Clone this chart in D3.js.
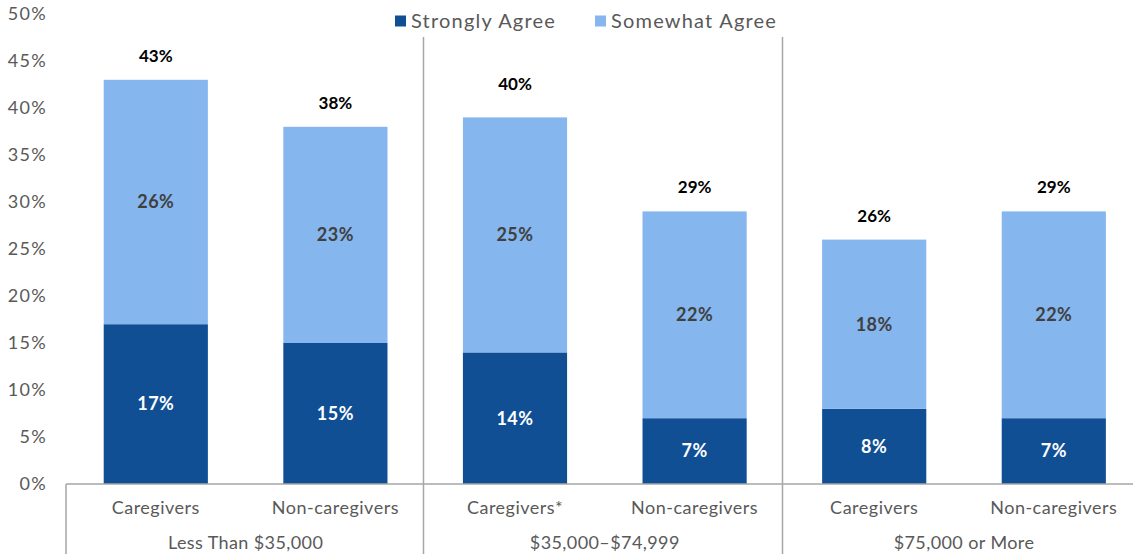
<!DOCTYPE html>
<html>
<head>
<meta charset="utf-8">
<script src="https://cdn.jsdelivr.net/npm/d3@7"></script>
<style>
  body { margin: 0; background: #fff; }
  text { font-family: Lato, "Noto Sans", sans-serif; }
</style>
</head>
<body>
<svg id="chart" width="1133" height="554"></svg>
<script>
// data
const groups = ["Less Than $35,000", "$35,000\u2013$74,999", "$75,000 or More"];
const categories = ["Caregivers", "Non-caregivers", "Caregivers*", "Non-caregivers", "Caregivers", "Non-caregivers"];
const groupOf = [0, 0, 1, 1, 2, 2];
const strongly = [17, 15, 14, 7, 8, 7];
const somewhat = [26, 23, 25, 22, 18, 22];
const totals = [43, 38, 40, 29, 26, 29];
const seriesNames = ["Strongly Agree", "Somewhat Agree"];
const yTicks = [0, 5, 10, 15, 20, 25, 30, 35, 40, 45, 50];

const colors = ["#114f95", "#85b6ee"];
const grey = "#595959";
const lineCol = "#a6a6a6";

const svg = d3.select("#chart");
const margin = {left: 66, top: 14, bottom: 70};
const width = +svg.attr("width");
const height = +svg.attr("height");
const y0 = height - margin.bottom;

const rows = categories.map((c, i) => ({
  key: i, cat: c, strong: strongly[i], some: somewhat[i], total: totals[i]
}));

const x = d3.scaleBand()
  .domain(rows.map(d => d.key))
  .range([margin.left, margin.left + 6 * 179.6])
  .paddingInner(0.42)
  .paddingOuter(0.21);

const y = d3.scaleLinear()
  .domain([0, 50])
  .range([y0, margin.top]);

// y axis (labels only)
const yAxis = svg.append("g")
  .attr("transform", `translate(${47},0)`)
  .call(d3.axisLeft(y).tickValues(yTicks).tickSize(0).tickFormat(d => d + "%"));
yAxis.select(".domain").remove();
yAxis.selectAll("text")
  .attr("x", 0)
  .style("font-size", "18px")
  .style("letter-spacing", "1.3px")
  .style("font-family", "Lato, sans-serif")
  .attr("fill", grey);

// stacked bars
const stack = d3.stack().keys(["strong", "some"]);
const layers = stack(rows);

svg.append("g").selectAll("g")
  .data(layers)
  .join("g")
    .attr("fill", (d, i) => colors[i])
  .selectAll("rect")
  .data(d => d)
  .join("rect")
    .attr("x", d => x(d.data.key))
    .attr("width", x.bandwidth())
    .attr("y", d => y(d[1]))
    .attr("height", d => y(d[0]) - y(d[1]));

// segment labels
layers.forEach((layer, li) => {
  svg.append("g").selectAll("text")
    .data(layer)
    .join("text")
      .attr("x", d => x(d.data.key) + x.bandwidth() / 2)
      .attr("y", d => (y(d[0]) + y(d[1])) / 2)
      .attr("dy", "0.35em")
      .attr("text-anchor", "middle")
      .style("font-size", "18px")
      .style("font-weight", "bold")
      .style("letter-spacing", "0.5px")
      .attr("fill", li === 0 ? "#ffffff" : "#404040")
      .text(d => (d[1] - d[0]) + "%");
});

// totals
svg.append("g").selectAll("text")
  .data(rows)
  .join("text")
    .attr("x", d => x(d.key) + x.bandwidth() / 2)
    .attr("y", d => y(d.total) - 24)
    .attr("dy", "0.35em")
    .attr("text-anchor", "middle")
    .style("font-size", "17px")
    .style("font-weight", "bold")
    .attr("fill", "#000")
    .text(d => d.total + "%");

// category axis line + separators
const step = x.step();
const xLeft = margin.left;
svg.append("line")
  .attr("x1", xLeft).attr("x2", width)
  .attr("y1", y0).attr("y2", y0)
  .attr("stroke", lineCol).attr("stroke-width", 1.5);

svg.append("line")
  .attr("x1", xLeft).attr("x2", xLeft)
  .attr("y1", y0).attr("y2", height)
  .attr("stroke", lineCol).attr("stroke-width", 1.5);

const sepX = [2, 4].map(i => Math.round(xLeft + i * step) - 1.5);
svg.append("g").selectAll("line")
  .data(sepX)
  .join("line")
    .attr("x1", d => d).attr("x2", d => d)
    .attr("y1", 37).attr("y2", height)
    .attr("stroke", lineCol).attr("stroke-width", 1.5);

// category labels
svg.append("g").selectAll("text")
  .data(rows)
  .join("text")
    .attr("x", d => x(d.key) + x.bandwidth() / 2)
    .attr("y", 508)
    .attr("dy", "0.35em")
    .attr("text-anchor", "middle")
    .style("font-size", "18px")
    .style("letter-spacing", "0.5px")
    .attr("fill", grey)
    .text(d => d.cat);

// group labels
svg.append("g").selectAll("text")
  .data(groups)
  .join("text")
    .attr("x", (d, i) => {
      const idx = groupOf.map((g, j) => g === i ? j : -1).filter(j => j >= 0);
      return (x(idx[0]) + x(idx[idx.length - 1]) + x.bandwidth()) / 2;
    })
    .attr("y", 543)
    .attr("dy", "0.35em")
    .attr("text-anchor", "middle")
    .style("font-size", "18px")
    .style("letter-spacing", "0.4px")
    .attr("fill", grey)
    .text(d => d);

// legend
const legendX = [395, 595];
const legend = svg.append("g").selectAll("g")
  .data(seriesNames)
  .join("g")
    .attr("transform", (d, i) => `translate(${legendX[i]},21)`);
legend.append("rect")
  .attr("x", 0).attr("y", -5.5)
  .attr("width", 11).attr("height", 11)
  .attr("fill", (d, i) => colors[i]);
legend.append("text")
  .attr("x", 16).attr("y", 0)
  .attr("dy", "0.35em")
  .style("font-size", "20px")
  .style("letter-spacing", "1.2px")
  .attr("fill", grey)
  .text(d => d);
</script>
</body>
</html>
